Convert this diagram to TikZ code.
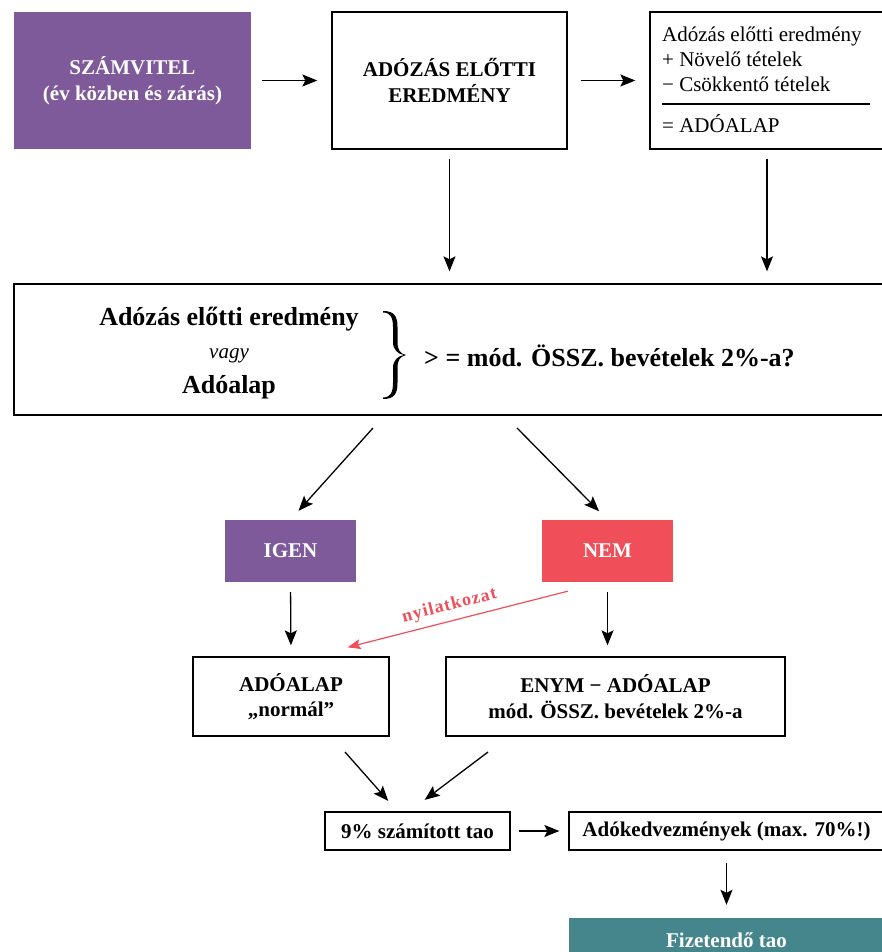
\documentclass[tikz,border=0pt]{standalone}
\usepackage{fontspec}
\setmainfont{Liberation Serif}
\usetikzlibrary{arrows.meta,calc}
\definecolor{lila}{RGB}{127,90,155}
\definecolor{piros}{RGB}{240,78,88}
\definecolor{kekes}{RGB}{69,134,140}
\begin{document}
\begin{tikzpicture}[x=1pt,y=-1pt,
  box/.style={draw=black,line width=1.3pt,inner sep=0pt,align=center,
    font=\fontsize{21}{25.5}\selectfont\bfseries},
  fillbox/.style={fill=#1,draw=none,inner sep=0pt,align=center,text=white,
    font=\fontsize{21}{25.5}\selectfont\bfseries},
  arr/.style={-{Stealth[length=15pt,width=12pt,inset=3pt]},line width=1.3pt},
  redarr/.style={-{Stealth[length=13pt,width=10pt,inset=2.5pt]},line width=1.2pt,draw=piros},
  txt/.style={inner sep=0pt},
  reg/.style={txt,anchor=base west,font=\fontsize{21}{25}\selectfont},
  big/.style={txt,anchor=base,font=\fontsize{26}{30}\selectfont\bfseries}]
\useasboundingbox (0,0) rectangle (882,952);
\clip (0,0) rectangle (882,952);

% top row
\node[fillbox=lila,minimum width=237pt,minimum height=137pt] (szamv) at (132.5,80.5)
  {SZÁMVITEL\\(év közben és zárás)};
\node[box,minimum width=235pt,minimum height=137pt] (ered) at (449.5,80.5)
  {ADÓZÁS ELŐTTI\\EREDMÉNY};
\node[box,minimum width=234pt,minimum height=137pt] (calc) at (767,80.5) {};
\node[reg] (c1) at (662,42) {Adózás előtti eredmény};
\node[reg] (c2) at (662,67) {+ Növelő tételek};
\node[reg] (c3) at (662,92) {− Csökkentő tételek};
\coordinate (r1) at (662,104);
\coordinate (r2) at (870,104);
\draw[line width=1.2pt] (r1) -- (r2);
\node[reg] (c4) at (662,133) {= ADÓALAP};

% big box
\node[draw=black,line width=1.3pt,minimum width=876pt,minimum height=131pt,inner sep=0pt] (bigbox) at (452,349.5) {};
\node[big] (q1) at (229,325) {Adózás előtti eredmény};
\node[txt,anchor=base,font=\fontsize{21}{25}\selectfont\itshape] (q2) at (229,358) {vagy};
\node[big] (q3) at (229,393) {Adóalap};
\fill (383,311) .. controls (394,311) and (397.5,316) .. (397.5,327) -- (397.5,342)
  .. controls (397.5,350) and (400,353.5) .. (406,355)
  .. controls (400,356.5) and (397.5,360) .. (397.5,368) -- (397.5,383)
  .. controls (397.5,394) and (394,399) .. (383,399) -- (383,397.5)
  .. controls (390,397.5) and (393,393) .. (393,383) -- (393,368)
  .. controls (393,360) and (398,356) .. (404,355)
  .. controls (398,354) and (393,350) .. (393,342) -- (393,327)
  .. controls (393,317) and (390,312.5) .. (383,312.5) -- cycle;
\node[big,anchor=base west] (q4) at (424,366) {> = mód. ÖSSZ. bevételek 2\%-a?};

% decision
\node[fillbox=lila,minimum width=131pt,minimum height=62pt] (igen) at (290.5,551) {IGEN};
\node[fillbox=piros,minimum width=131pt,minimum height=62pt] (nem) at (607.5,551) {NEM};
\node[box,minimum width=196pt,minimum height=79pt] (normal) at (291,696.5) {ADÓALAP\\„normál”};
\node[box,minimum width=339pt,minimum height=79pt] (enym) at (615.5,696.5) {ENYM − ADÓALAP\\mód. ÖSSZ. bevételek 2\%-a};

% bottom
\node[box,minimum width=185pt,minimum height=38pt] (tao9) at (417.5,831) {9\% számított tao};
\node[box,minimum width=315pt,minimum height=38pt] (kedv) at (726.5,831) {Adókedvezmények (max. 70\%!)};
\node[fillbox=kekes,minimum width=315pt,minimum height=44pt] (fizet) at (726.5,940) {Fizetendő tao};

% connectors
\draw[arr,shorten <=11pt,shorten >=14pt] (szamv.east) -- (ered.west);
\draw[arr,shorten <=13pt,shorten >=14pt] (ered.east) -- (calc.west);
\draw[arr,shorten <=9pt,shorten >=12pt] (ered.south) -- (ered.south |- bigbox.north);
\draw[arr,shorten <=9pt,shorten >=12pt] (calc.south) -- (calc.south |- bigbox.north);
\coordinate (b1) at (373,428);
\coordinate (b2) at (517,428);
\draw[arr,shorten >=12pt] (b1) -- (igen.north);
\draw[arr,shorten >=12pt] (b2) -- (nem.north);
\draw[arr,shorten <=10pt,shorten >=11pt] (igen.south) -- (normal.north);
\draw[arr,shorten <=10pt,shorten >=11pt] (nem.south) -- (nem.south |- enym.north);
\draw[redarr] ([shift={(26,9)}]nem.south west) -- ([shift={(-42,-9)}]normal.north east);
\node[txt,rotate=14.3,text=piros,font=\fontsize{18}{20}\selectfont\bfseries\addfontfeature{LetterSpace=6}] (nyil) at (449.5,606) {nyilatkozat};
\coordinate (d1) at (345,752);
\coordinate (d2) at (488,752);
\draw[arr,shorten >=14pt] (d1) -- ([xshift=-20pt]tao9.north);
\draw[arr,shorten >=19pt] (d2) -- ([xshift=-8pt]tao9.north);
\draw[arr,shorten <=8pt,shorten >=9pt] (tao9.east) -- (kedv.west);
\draw[arr,shorten <=12pt,shorten >=13pt] (kedv.south) -- (fizet.north);
\end{tikzpicture}
\end{document}
